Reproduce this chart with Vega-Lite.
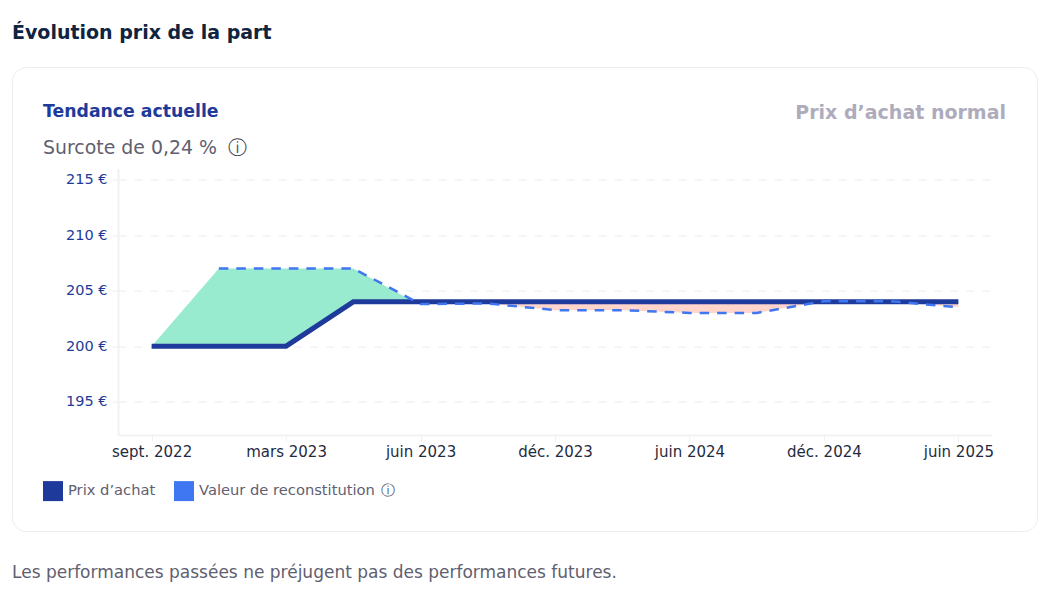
{
"$schema":"https://vega.github.io/schema/vega-lite/v6.json",
"width":874,"height":266.4,
"autosize":{"type":"none"},
"padding":{"left":118,"top":168.6,"right":61,"bottom":167},
"background":"#ffffff",
"view":{"stroke":null},
"config":{"font":"DejaVu Sans"},
"datasets":{
"series":[
{"pas":0,"date":"sept. 2022","prix":200},
{"pas":1,"date":"déc. 2022","prix":200,"valeur":207},
{"pas":2,"date":"mars 2023","prix":200,"valeur":207},
{"pas":3,"date":"avr. 2023","prix":204,"valeur":207},
{"pas":4,"date":"juin 2023","prix":204,"valeur":203.8},
{"pas":5,"date":"sept. 2023","prix":204,"valeur":203.85},
{"pas":6,"date":"déc. 2023","prix":204,"valeur":203.25},
{"pas":7,"date":"mars 2024","prix":204,"valeur":203.25},
{"pas":8,"date":"juin 2024","prix":204,"valeur":203},
{"pas":9,"date":"sept. 2024","prix":204,"valeur":203},
{"pas":10,"date":"déc. 2024","prix":204,"valeur":204.05},
{"pas":11,"date":"mars 2025","prix":204,"valeur":204.05},
{"pas":12,"date":"juin 2025","prix":204,"valeur":203.5}
],
"surcote":[
{"pas":0,"haut":200,"bas":200},
{"pas":1,"haut":207,"bas":200},
{"pas":2,"haut":207,"bas":200},
{"pas":3,"haut":207,"bas":204},
{"pas":3.9,"haut":204,"bas":204}
],
"decote":[
{"pas":3.9,"haut":204,"bas":204},
{"pas":4,"haut":204,"bas":203.8},
{"pas":5,"haut":204,"bas":203.85},
{"pas":6,"haut":204,"bas":203.25},
{"pas":7,"haut":204,"bas":203.25},
{"pas":8,"haut":204,"bas":203},
{"pas":9,"haut":204,"bas":203},
{"pas":9.95,"haut":204,"bas":204},
{"pas":11.1,"haut":204,"bas":204},
{"pas":12,"haut":204,"bas":203.5}
]
},
"encoding":{
"x":{"field":"pas","type":"quantitative","title":null,
"scale":{"domain":[-0.5,12.5],"nice":false,"zero":false},
"axis":{"values":[0,2,4,6,8,10,12],"grid":false,"domainColor":"#f1f1f4","domainWidth":2,"tickColor":"#f1f1f4","tickWidth":1,"tickSize":6,"labelPadding":3,"labelFont":"DejaVu Sans","labelFontSize":15,"labelColor":"#1f2b40","labelOverlap":false,
"labelExpr":"['sept. 2022','mars 2023','juin 2023','déc. 2023','juin 2024','déc. 2024','juin 2025'][datum.value/2]"}}
},
"layer":[
{"data":{"values":[{}]},"mark":{"type":"rect","fillOpacity":0,"stroke":"#ececee","strokeWidth":1,"cornerRadius":14},
"encoding":{"x":{"value":-105.5},"x2":{"value":919.5},"y":{"value":-101},"y2":{"value":363}}},
{"data":{"name":"surcote"},"mark":{"type":"area","color":"#99ebd0"},
"encoding":{"y":{"field":"haut","type":"quantitative","title":null,"scale":{"domain":[192,216],"nice":false,"zero":false},
"axis":{"values":[195,200,205,210,215],"grid":true,"gridColor":"#efefef","gridDash":[8,8],"gridWidth":1.2,"domainColor":"#f1f1f4","domainWidth":2,"tickColor":"#efefef","tickSize":6,"tickWidth":1.2,"tickDash":[6,6],"labelPadding":5,"labelFont":"DejaVu Sans","labelFontSize":14.5,"labelColor":"#1e3a9a","labelExpr":"datum.value + ' €'"}},
"y2":{"field":"bas"}}},
{"data":{"name":"decote"},"mark":{"type":"area","color":"#ffd5cc"},
"encoding":{"y":{"field":"haut","type":"quantitative"},"y2":{"field":"bas"}}},
{"data":{"name":"series"},"mark":{"type":"line","strokeWidth":5,"strokeCap":"butt"},
"encoding":{"y":{"field":"prix","type":"quantitative"},
"color":{"datum":"Prix d’achat","type":"nominal","title":null,
"scale":{"domain":["Prix d’achat","Valeur de reconstitution"],"range":["#1e3a9a","#3f76f2"]},
"legend":{"orient":"none","legendX":-75,"legendY":312.5,"direction":"horizontal","columns":2,"symbolType":"square","symbolSize":400,"symbolStrokeWidth":0,"columnPadding":18,"labelFont":"DejaVu Sans","labelFontSize":14.7,"labelColor":"#5f6070","labelOffset":5,"labelLimit":300,
"encode":{"symbols":{"update":{"fill":{"scale":"color","field":"value"},"fillOpacity":{"value":1},"opacity":{"value":1}}}}}}}},
{"data":{"name":"series"},"transform":[{"filter":"isValid(datum.valeur)"}],"mark":{"type":"line","strokeWidth":2.5,"strokeDash":[9.5,8]},
"encoding":{"y":{"field":"valeur","type":"quantitative"},"color":{"datum":"Valeur de reconstitution","type":"nominal"}}},
{"data":{"values":[{}]},"mark":{"type":"text","align":"left","baseline":"middle","font":"DejaVu Sans","fontSize":19,"fontWeight":700,"color":"#10233f"},"encoding":{"x":{"value":-106},"y":{"value":-136},"text":{"value":"Évolution prix de la part"}}},
{"data":{"values":[{}]},"mark":{"type":"text","align":"left","baseline":"middle","font":"DejaVu Sans","fontSize":17.3,"fontWeight":700,"color":"#1e3a9a"},"encoding":{"x":{"value":-75},"y":{"value":-57},"text":{"value":"Tendance actuelle"}}},
{"data":{"values":[{}]},"mark":{"type":"text","align":"right","baseline":"middle","font":"DejaVu Sans","fontSize":19,"fontWeight":700,"color":"#aeacbc"},"encoding":{"x":{"value":888},"y":{"value":-56},"text":{"value":"Prix d’achat normal"}}},
{"data":{"values":[{}]},"mark":{"type":"text","align":"left","baseline":"middle","font":"DejaVu Sans","fontSize":18.9,"color":"#5f6070"},"encoding":{"x":{"value":-75},"y":{"value":-21},"text":{"value":"Surcote de 0,24 %"}}},
{"data":{"values":[{}]},"mark":{"type":"text","align":"center","baseline":"middle","font":"DejaVu Sans","fontSize":19,"color":"#4a4b58"},"encoding":{"x":{"value":119},"y":{"value":-21},"text":{"value":"ⓘ"}}},
{"data":{"values":[{}]},"mark":{"type":"text","align":"center","baseline":"middle","font":"DejaVu Sans","fontSize":14,"color":"#4a4b58"},"encoding":{"x":{"value":270},"y":{"value":322},"text":{"value":"ⓘ"}}},
{"data":{"values":[{}]},"mark":{"type":"text","align":"left","baseline":"middle","font":"DejaVu Sans","fontSize":17,"color":"#5f6070"},"encoding":{"x":{"value":-106},"y":{"value":404.5},"text":{"value":"Les performances passées ne préjugent pas des performances futures."}}}
]
}
